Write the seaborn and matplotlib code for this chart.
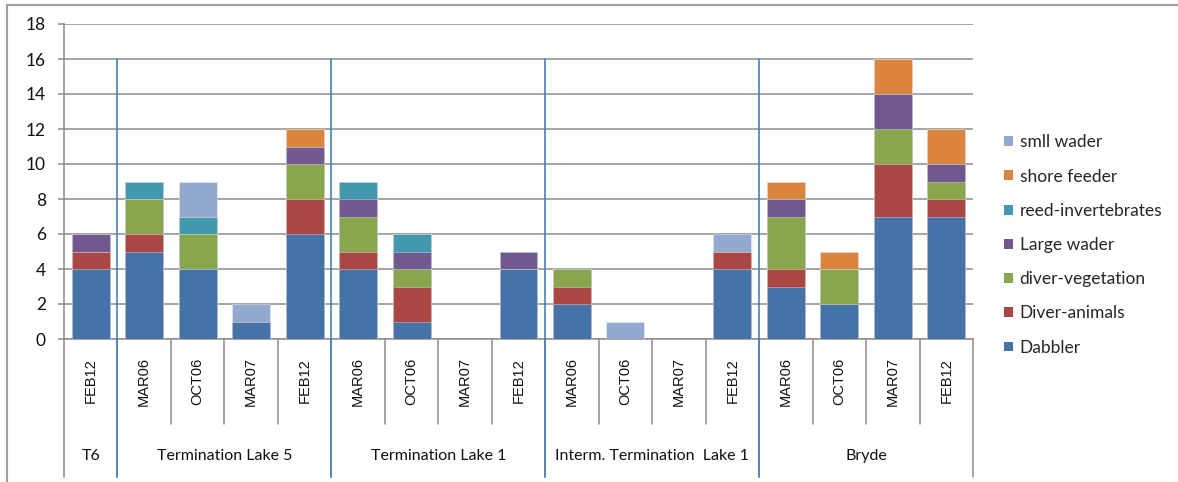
import numpy as np
import pandas as pd
import matplotlib
matplotlib.use("Agg")
import matplotlib.pyplot as plt
from matplotlib.patches import Patch
from matplotlib.lines import Line2D
import seaborn as sns

# ---- data -------------------------------------------------------------
sites = ["T6", "Termination Lake 5", "Termination Lake 1",
         "Interm. Termination  Lake 1", "Bryde"]
site_surveys = [
    ["FEB12"],
    ["MAR06", "OCT06", "MAR07", "FEB12"],
    ["MAR06", "OCT06", "MAR07", "FEB12"],
    ["MAR06", "OCT06", "MAR07", "FEB12"],
    ["MAR06", "OCT06", "MAR07", "FEB12"],
]

dabbler            = [4, 5, 4, 1, 6, 4, 1, 0, 4, 2, 0, 0, 4, 3, 2, 7, 7]
diver_animals      = [1, 1, 0, 0, 2, 1, 2, 0, 0, 1, 0, 0, 1, 1, 0, 3, 1]
diver_vegetation   = [0, 2, 2, 0, 2, 2, 1, 0, 0, 1, 0, 0, 0, 3, 2, 2, 1]
large_wader        = [1, 0, 0, 0, 1, 1, 1, 0, 1, 0, 0, 0, 0, 1, 0, 2, 1]
reed_invertebrates = [0, 1, 1, 0, 0, 1, 1, 0, 0, 0, 0, 0, 0, 0, 0, 0, 0]
shore_feeder       = [0, 0, 0, 0, 1, 0, 0, 0, 0, 0, 0, 0, 0, 1, 1, 2, 2]
smll_wader         = [0, 0, 2, 1, 0, 0, 0, 0, 0, 0, 1, 0, 1, 0, 0, 0, 0]

# stacking order, bottom to top
layers = [
    ("Dabbler", dabbler, "#4572A7"),
    ("Diver-animals", diver_animals, "#AA4643"),
    ("diver-vegetation", diver_vegetation, "#89A54E"),
    ("Large wader", large_wader, "#71588F"),
    ("reed-invertebrates", reed_invertebrates, "#4198AF"),
    ("shore feeder", shore_feeder, "#DB843D"),
    ("smll wader", smll_wader, "#93A9CF"),
]

# ---- long table -------------------------------------------------------
rows = []
for site, surveys in zip(sites, site_surveys):
    for s in surveys:
        rows.append({"site": site, "survey": s, "slot": f"{site}|{s}"})
df = pd.DataFrame(rows)
for name, vals, _ in layers:
    df[name] = vals
slots = list(df["slot"])

# cumulative tops for each layer
cum = np.zeros(len(df))
for name, vals, _ in layers:
    cum = cum + np.asarray(vals, dtype=float)
    df[name + "_top"] = cum.copy()

# ---- figure -----------------------------------------------------------
sns.set_style("white")
plt.rcParams["font.family"] = ["Lato", "DejaVu Sans"]

W, H = 1178, 482
fig = plt.figure(figsize=(W / 100, H / 100), dpi=100)
ax_l, ax_r, ax_t, ax_b = 64, 973, 24, 339
ax = fig.add_axes([ax_l / W, (H - ax_b) / H, (ax_r - ax_l) / W, (ax_b - ax_t) / H])

# draw the stacks top-down so each lower segment covers the one above it
for name, _, color in reversed(layers):
    sns.barplot(data=df, x="slot", y=name + "_top", order=slots, color=color,
                saturation=1, width=0.71, errorbar=None,
                edgecolor=(1, 1, 1, 0.35), linewidth=0.7, ax=ax, zorder=3)

grid_col = "#8c8c8c"
ax.set_xlim(-0.5, len(slots) - 0.5)
ax.set_ylim(0, 18)
ax.set_yticks(np.arange(0, 19, 2))
ax.yaxis.grid(True, color=grid_col, linewidth=1.1)
ax.xaxis.grid(False)
ax.set_axisbelow(True)
ax.set_xlabel("")
ax.set_ylabel("")
ax.set_xticks([])
for side in ("top", "right"):
    ax.spines[side].set_visible(False)
for side in ("left", "bottom"):
    ax.spines[side].set_color(grid_col)
    ax.spines[side].set_linewidth(1.1)
ax.tick_params(axis="y", direction="out", length=4, width=1.1, color=grid_col,
               labelsize=12.5, pad=9, labelcolor="#111111", left=True)

# ---- two-level category axis -------------------------------------------
ax_h = ax_b - ax_t
inner_y = -(424 - ax_b) / ax_h
outer_y = -(477 - ax_b) / ax_h
label_y = -(381 - ax_b) / ax_h
group_y = -(456 - ax_b) / ax_h
trans = ax.get_xaxis_transform()

for i, s in enumerate(df["survey"]):
    ax.text(i, label_y, s, rotation=90, ha="center", va="center",
            fontsize=10.5, family=["Liberation Sans", "DejaVu Sans"],
            color="#111111", transform=trans)

start = 0
group_edges = [-0.5]
for site, surveys in zip(sites, site_surveys):
    n = len(surveys)
    center = start + (n - 1) / 2
    ax.text(center, group_y, site, ha="center", va="center",
            fontsize=11.5, color="#111111", transform=trans)
    for k in range(1, n):
        x = start + k - 0.5
        ax.plot([x, x], [0, inner_y], color=grid_col, lw=1.1,
                transform=trans, clip_on=False)
    start += n
    group_edges.append(start - 0.5)

for x in group_edges:
    ax.plot([x, x], [0, outer_y], color=grid_col, lw=1.1,
            transform=trans, clip_on=False)

# blue separators between sites
for x in group_edges[1:-1]:
    ax.plot([x, x], [16 / 18, outer_y], color="#4A7EBB", lw=1.2,
            transform=trans, clip_on=False, zorder=5)

# ---- legend -------------------------------------------------------------
handles = [Patch(facecolor=c, edgecolor="none", label=n)
           for n, _, c in reversed(layers)]
fig.legend(handles=handles, loc="center left",
           bbox_to_anchor=(1004 / W, (H - 245) / H), frameon=False,
           fontsize=12.5, handlelength=0.5, handleheight=0.5,
           handletextpad=0.4, labelspacing=1.05, borderpad=0,
           borderaxespad=0)

# chart frame
fig.add_artist(Line2D([7 / W, 1.0], [(H - 5) / H, (H - 5) / H],
                      color="#a0a0a0", lw=1.5, transform=fig.transFigure))
fig.add_artist(Line2D([7 / W, 7 / W], [0, (H - 5) / H],
                      color="#a0a0a0", lw=1.5, transform=fig.transFigure))

fig.savefig("out.png", dpi=100)
